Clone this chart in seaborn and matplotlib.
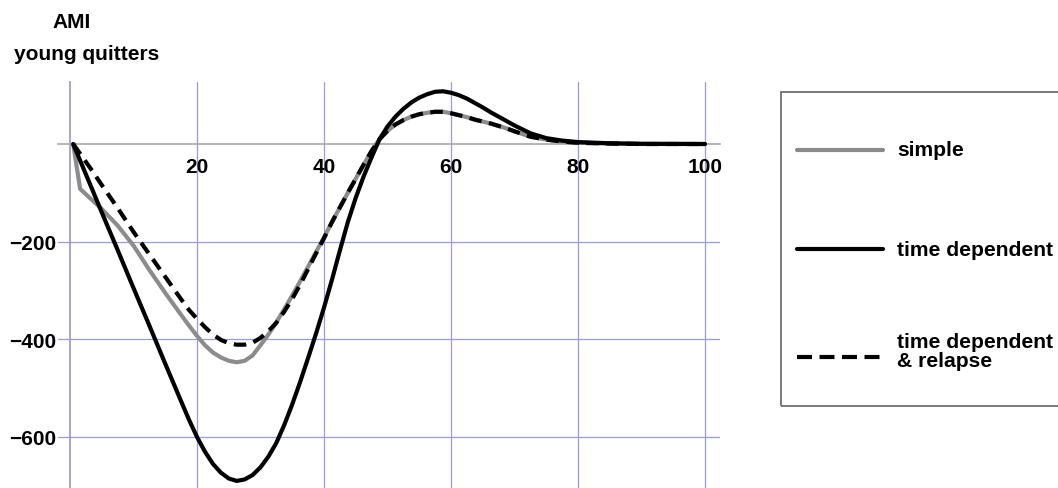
import matplotlib
matplotlib.use("Agg")
import matplotlib.pyplot as plt
import seaborn as sns
import pandas as pd
from matplotlib.lines import Line2D
from matplotlib.patches import Rectangle
from matplotlib.ticker import MultipleLocator, FixedLocator

sns.set_style("white")
plt.rcParams["font.family"] = ["Liberation Sans", "DejaVu Sans"]
plt.rcParams["text.color"] = "black"
plt.rcParams["xtick.color"] = "black"
plt.rcParams["ytick.color"] = "black"

# values
t = [0.5, 1.6, 3.5, 5, 7.5, 10, 12.5, 15,
     17.5, 18.75, 20, 21.25, 22.5, 23.75, 25, 26.25, 27.5, 28.75, 30, 31.25,
     32.5, 33.75, 35, 36.25, 37.5, 38.75, 40, 41.25, 42.5, 43.75, 45, 46.25,
     47.5, 48.75, 50, 51.25, 52.5, 53.75, 55, 56.25, 57.5, 58.75, 60, 61.25,
     62.5, 63.75, 65, 66.25, 67.5, 68.75, 70,
     72.5, 75, 77.5, 80, 85, 90, 100]
simple = [0, -92, -115, -133, -167, -208, -258, -305,
          -350, -372, -393, -412, -427, -437, -444, -447, -444, -433, -412, -390,
          -365, -338, -310, -281, -251, -221, -191, -160, -130, -100, -71, -42,
          -14, 10, 27, 40, 49, 56, 61, 64, 66, 66, 63, 59,
          55, 50, 46, 42, 37, 32, 26,
          15, 9, 5, 2.5, 1, 0, 0]
time_dep = [0, -34, -93, -140, -217, -295, -372, -450,
            -527, -565, -600, -630, -655, -673, -685, -690, -687, -678, -662, -640,
            -612, -575, -533, -487, -438, -388, -335, -278, -218, -160, -110, -66,
            -27, 10, 36, 56, 72, 85, 95, 102, 107, 108, 105, 100,
            93, 84, 75, 65, 56, 47, 38,
            22, 12, 7, 4, 1.5, 0.5, 0]
relapse = [0, -20, -55, -84, -131, -180, -226, -272,
           -318, -340, -358, -375, -390, -401, -408, -411, -411, -407, -397, -383,
           -366, -343, -317, -288, -256, -224, -193, -160, -130, -100, -71, -42,
           -14, 10, 27, 40, 49, 56, 61, 64, 66, 66, 63, 59,
           55, 50, 46, 42, 37, 32, 26,
           15, 9, 5, 2.5, 1, 0, 0]
labels = ["simple", "time dependent", "time dependent\n& relapse"]

df = pd.DataFrame({"t": t, "simple": simple, "time_dep": time_dep, "relapse": relapse})

W, H = 1058, 489
fig = plt.figure(figsize=(W / 100, H / 100), dpi=100)
ax = fig.add_axes([58 / W, 0, (720 - 58) / W, (489 - 83) / H])

sns.lineplot(data=df, x="t", y="simple", ax=ax, color="#8c8c8c", lw=3, zorder=3)
sns.lineplot(data=df, x="t", y="time_dep", ax=ax, color="black", lw=3, zorder=4)
sns.lineplot(data=df, x="t", y="relapse", ax=ax, color="black", lw=3, zorder=5)
ax.lines[-1].set_dashes((3.0, 1.8))
for ln in ax.lines:
    ln.set_solid_joinstyle("round")
    ln.set_dash_joinstyle("round")

ax.set_xlim(-1.89, 102.36)
ax.set_ylim(-704.5, 127)
ax.set_xlabel("")
ax.set_ylabel("")

# axes through the origin, Mathematica style
for s in ["top", "right"]:
    ax.spines[s].set_visible(False)
ax.spines["left"].set_position(("data", 0))
ax.spines["bottom"].set_position(("data", 0))
ax.spines["left"].set_color("#9898c0")
ax.spines["bottom"].set_color("#a8a8a8")
ax.spines["left"].set_linewidth(1.2)
ax.spines["bottom"].set_linewidth(1.2)

ax.xaxis.set_major_locator(FixedLocator([20, 40, 60, 80, 100]))
ax.yaxis.set_major_locator(FixedLocator([-600, -400, -200]))
ax.xaxis.set_minor_locator(MultipleLocator(5))
ax.yaxis.set_minor_locator(MultipleLocator(50))
ax.tick_params(which="major", length=0, labelsize=15, pad=9)
ax.tick_params(which="minor", direction="in", length=3, color="#b0b0b0", width=0.8)
ax.tick_params(axis="y", which="major", pad=10)
for lab in ax.get_xticklabels() + ax.get_yticklabels():
    lab.set_fontweight("bold")

ax.grid(True, which="major", color="#9a9ae0", lw=0.9)
ax.set_axisbelow(True)

# title at top left
fig.text(72 / W, 1 - 22 / H, "AMI", ha="center", va="center",
         fontsize=15, fontweight="bold")
fig.text(87 / W, 1 - 55 / H, "young quitters", ha="center", va="center",
         fontsize=15, fontweight="bold")

# legend box on the right
fig.patches.append(Rectangle((781 / W, 1 - 407 / H), 400 / W, (407 - 93) / H,
                             transform=fig.transFigure, fill=False,
                             edgecolor="#707070", lw=1.3))
handles = [(151, dict(color="#8c8c8c", lw=3)),
           (250, dict(color="black", lw=3)),
           (358, dict(color="black", lw=3, dashes=(3.6, 1.8)))]
for (yp, kw) in handles:
    fig.add_artist(Line2D([797 / W, 883 / W], [1 - yp / H, 1 - yp / H],
                          transform=fig.transFigure, **kw))
fig.text(897 / W, 1 - 150 / H, labels[0], ha="left", va="center",
         fontsize=15.2, fontweight="bold")
fig.text(897 / W, 1 - 251 / H, labels[1], ha="left", va="center",
         fontsize=15.2, fontweight="bold")
fig.text(897 / W, 1 - 352 / H, labels[2], ha="left", va="center",
         fontsize=15.2, fontweight="bold", linespacing=1.0)

fig.savefig("out.png", dpi=100)
